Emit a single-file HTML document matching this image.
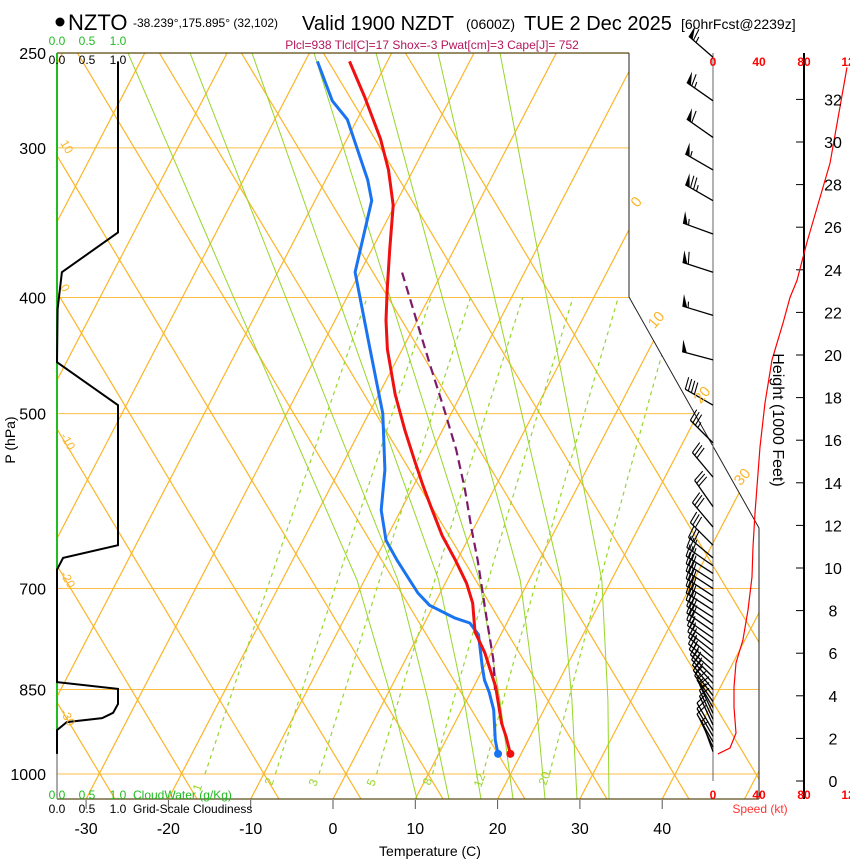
<!DOCTYPE html>
<html><head><meta charset="utf-8">
<style>
html,body{margin:0;padding:0;background:#fff;}
svg{display:block;font-family:"Liberation Sans",Arial,sans-serif;}
</style></head>
<body>
<svg id="chart" width="850" height="860" viewBox="0 0 850 860" xmlns="http://www.w3.org/2000/svg">
<defs>
<clipPath id="plotclip"><polygon points="57,53 629,53 629,297 759,528 759,799 57,799"/></clipPath>
</defs>
<g id="title">
<circle cx="60" cy="22" r="4.5" fill="#000"/>
<text x="68" y="30" font-size="22">NZTO</text>
<text x="133" y="27" font-size="12">-38.239°,175.895° (32,102)</text>
<text x="302" y="30" font-size="20">Valid 1900 NZDT</text>
<text x="466" y="29" font-size="14">(0600Z)</text>
<text x="524" y="30" font-size="20">TUE 2 Dec 2025</text>
<text x="681" y="29" font-size="14">[60hrFcst@2239z]</text>
<text x="432" y="49" font-size="12" fill="#b5165c" text-anchor="middle">Plcl=938 Tlcl[C]=17 Shox=-3 Pwat[cm]=3 Cape[J]= 752</text>
</g>
<g id="grid" clip-path="url(#plotclip)"></g>
<g id="frame"></g>
<g id="profiles" clip-path="url(#plotclip)"></g>
<g id="cloud"></g>
<g id="wind"></g>
<g id="labels"></g>
</svg>
<script>
// ---- sounding data (pressure hPa, temperature C) ----
const tempP = [962,931,907,846,792,761,720,693,663,632,602,574,547,516,482,442,418,394,365,335,313,295,272,254];
const tempC = [18.7,17.1,15.7,12.7,9.2,6.7,4.6,2.6,-0.2,-3.4,-6.2,-8.9,-11.5,-14.6,-18.0,-21.8,-23.8,-25.6,-27.8,-30.2,-33.0,-35.9,-40.5,-44.6];
const dewP = [962,937,884,854,835,814,765,748,741,723,706,663,638,602,557,500,442,400,381,332,319,284,274,254];
const dewC = [17.2,16.0,13.9,12.2,10.9,9.8,7.3,5.5,3.4,-0.5,-2.7,-7.3,-9.9,-12.4,-14.5,-18.3,-23.9,-28.4,-30.6,-33.1,-34.9,-41.2,-44.2,-48.5];
const parcelP = [851,803,744,663,626,579,536,497,460,426,381];
const parcelC = [12.8,10.7,7.4,2.5,-0.1,-3.5,-7.1,-11.0,-15.1,-19.1,-24.9];
// cloudiness (fraction) vs pressure
const cloudP = [254,353,381,409,453,492,644,660,675,838,849,874,889,898,905,919,962];
const cloudFrac = [1.0,1.0,0.08,0.01,0,1.0,1.0,0.1,0,0,1.0,1.0,0.92,0.74,0.16,0,0];
// wind barbs
const windP = [252,274,294,313,332,354,381,414,451,492,529,565,598,622,644,660,670,680,690,700,710,720,730,740,750,760,770,780,790,800,810,820,830,840,850,860,870,880,890,900,910,920,930,940,950,958];
const windDir = [311,305,305,300,300,290,288,287,285,300,315,320,325,320,315,310,305,303,303,303,303,303,303,303,305,305,305,307,308,310,310,312,315,318,320,322,325,330,335,335,335,330,330,330,335,340];
const windSpd = [65,65,60,55,75,55,60,55,50,40,35,30,30,30,30,30,30,30,30,30,30,30,30,30,30,28,27,25,25,25,25,22,22,20,20,18,15,15,15,12,12,10,10,8,6,5];
// speed profile: height (1000 ft) vs speed (kt)
const spdH = [1.27,1.55,2.25,3.47,4.41,5.54,6.62,8.03,9.58,10.99,12.58,15.68,17.75,19.77,21.5,22.7,23.5,25.3,29.0,33.5];
const spdKt = [4.3,14.8,20,18.3,18.3,20,26,30.4,33.9,34.8,36.5,40.9,45.2,51.3,60.9,67,73,81.7,101.7,116.5];
// axis labels
const pLevels = [250,300,400,500,700,850,1000];
const tTicks = [-30,-20,-10,0,10,20,30,40];
const mixRatios = [1,2,3,5,8,12,20];
const hTicks = [0,2,4,6,8,10,12,14,16,18,20,22,24,26,28,30,32];

const NS="http://www.w3.org/2000/svg";
function yP(p){return 774+520*Math.log(p/1000);}
function xT(t,y){return 333+8.23*t+0.52*(799-y);}
function xS(s){return 713+s*46/40;}
function yH(h){return 781-21.3*h;}
function xC(f){return 57+61*f;}
function mk(tag,attrs,parent){const e=document.createElementNS(NS,tag);for(const k in attrs)e.setAttribute(k,attrs[k]);parent.appendChild(e);return e;}
const grid=document.getElementById('grid'),frame=document.getElementById('frame'),prof=document.getElementById('profiles'),cloud=document.getElementById('cloud'),wind=document.getElementById('wind'),lab=document.getElementById('labels');
const ORANGE="#fbb527", GREEN="#97d62a";

// pressure lines
for(const p of pLevels){const y=yP(p);
 const l=mk('line',{x1:57,y1:y,x2:759,y2:y,stroke:ORANGE,'stroke-width':1,opacity:0.85},grid);
 
 
 const t=mk('text',{x:46,y:y+6,'font-size':16,'text-anchor':'end'},lab);t.textContent=p;
 
 
}
// isotherms (up-right)
for(let t=-110;t<=50;t+=10){
 const l=mk('line',{x1:xT(t,799),y1:799,x2:xT(t,53),y2:53,stroke:ORANGE,'stroke-width':1.2},grid);
 
 
}
// dry adiabats (down-right)
for(let k=-16;k<=6;k++){const x0=346+82*k;
 const l=mk('line',{x1:x0+0.6*(53-774),y1:53,x2:x0+0.6*(799-774),y2:799,stroke:ORANGE,'stroke-width':1.2},grid);
 
 
}
// moist adiabats (approx shape)
const mY=[53,250,413,580,700,799], mX=[128,213,284,357,392,417];
for(let k=0;k<=6;k++){let pts=[];
 for(let i=0;i<mY.length;i++){const sp=62+(32-62)*(mY[i]-53)/746;pts.push((mX[i]+k*sp).toFixed(1)+','+mY[i]);}
 const l=mk('polyline',{points:pts.join(' '),fill:'none',stroke:GREEN,'stroke-width':1},grid);
 
 
}
// mixing ratio lines
const mixLbl=[[200,792],[272,786],[316,787],[374,787],[430,786],[481,788],[546,786]];
mixRatios.forEach((w,i)=>{let pts=[];
 for(let p=1000;p>=400;p-=20){const e=w*p/(622+w),a=Math.log(e/6.112),td=243.5*a/(17.67-a),y=yP(p);pts.push(xT(td,y).toFixed(1)+','+y.toFixed(1));}
 const l=mk('polyline',{points:pts.join(' '),fill:'none',stroke:GREEN,'stroke-width':1.2,'stroke-dasharray':'4,4'},grid);
 
 
 const t=mk('text',{x:mixLbl[i][0],y:mixLbl[i][1],'font-size':12,fill:GREEN,transform:`rotate(-70 ${mixLbl[i][0]} ${mixLbl[i][1]})`},lab);t.textContent=w;
 
 
});
// frame
mk('line',{x1:57,y1:53,x2:629,y2:53,stroke:'#5a4a1a','stroke-width':1.2},frame);
mk('polyline',{points:'629,53 629,297 759,528 759,799',fill:'none',stroke:'#222','stroke-width':1},frame);
mk('line',{x1:57,y1:799,x2:759,y2:799,stroke:'#5a4a1a','stroke-width':1.2},frame);
mk('line',{x1:57,y1:753,x2:57,y2:799,stroke:'#555','stroke-width':1},frame);
mk('line',{x1:57,y1:53,x2:57,y2:753,stroke:'#22bb22','stroke-width':2},frame);
for(const t of tTicks){const x=xT(t,799);
 mk('line',{x1:x,y1:800,x2:x,y2:809,stroke:'#555'},frame);
 const tx=mk('text',{x:x,y:834,'font-size':16,'text-anchor':'middle'},lab);tx.textContent=t;
 
 
}
// isotherm/adiabat labels
[["0",640,205],["10",660,323],["20",706,398],["30",746,480]].forEach(a=>{const t=mk('text',{x:a[1],y:a[2],'font-size':15,fill:ORANGE,'text-anchor':'middle',transform:`rotate(-50 ${a[1]} ${a[2]})`},lab);t.textContent=a[0];
 
 });
[["10",60,143],["0",60,287],["-10",60,436],["-20",60,574],["-30",60,712]].forEach(a=>{const t=mk('text',{x:a[1],y:a[2],'font-size':12,fill:ORANGE,transform:`rotate(60 ${a[1]} ${a[2]})`},lab);t.textContent=a[0];
 
 });
// profiles
function line(P,C,attrs,name){const pts=P.map((p,i)=>{const y=yP(p);return xT(C[i],y).toFixed(1)+','+y.toFixed(1);});
 const l=mk('polyline',Object.assign({points:pts.join(' '),fill:'none','stroke-linejoin':'round'},attrs),prof);
 
 }
line(parcelP,parcelC,{stroke:'#7d1a6b','stroke-width':2.2,'stroke-dasharray':'9,5'},'parcel-trace');
line(dewP,dewC,{stroke:'#1a73f0','stroke-width':3},'dewpoint-line');
line(tempP,tempC,{stroke:'#f01010','stroke-width':3},'temperature-line');
{const y=yP(dewP[0]);const c=mk('circle',{cx:xT(dewC[0],y),cy:y,r:4,fill:'#1a73f0'},prof);
 
 }
{const y=yP(tempP[0]);const c=mk('circle',{cx:xT(tempC[0],y),cy:y,r:4,fill:'#f01010'},prof);
 
 }
// cloud panel
{const pts=cloudP.map((p,i)=>xC(cloudFrac[i]).toFixed(1)+','+yP(p).toFixed(1));
 const l=mk('polyline',{points:pts.join(' '),fill:'none',stroke:'#000','stroke-width':2},cloud);
 
 }
[["0.0",57],["0.5",87],["1.0",118]].forEach(a=>{
 [[45,'#22bb22'],[64,'#000'],[799,'#22bb22'],[813,'#000']].forEach(r=>{const t=mk('text',{x:a[1],y:r[0],'font-size':12,fill:r[1],'text-anchor':'middle'},lab);t.textContent=a[0];
 
 });});
{const t=mk('text',{x:133,y:799,'font-size':12,fill:'#22bb22'},lab);t.textContent='CloudWater (g/Kg)';}
{const t=mk('text',{x:133,y:813,'font-size':12,fill:'#000'},lab);t.textContent='Grid-Scale Cloudiness';}
{const t=mk('text',{x:430,y:856,'font-size':14,'text-anchor':'middle'},lab);t.textContent='Temperature (C)';}
{const t=mk('text',{x:15,y:440,'font-size':14,'text-anchor':'middle',transform:'rotate(-90 15 440)'},lab);t.textContent='P (hPa)';}
// wind panel
mk('line',{x1:713,y1:53,x2:713,y2:781,stroke:'#666','stroke-width':1},wind);
mk('line',{x1:804,y1:53,x2:804,y2:799,stroke:'#000','stroke-width':2},wind);
for(const h of hTicks){const y=yH(h);mk('line',{x1:796,y1:y,x2:804,y2:y,stroke:'#000'},wind);
 const t=mk('text',{x:833,y:y+6,'font-size':16,'text-anchor':'middle'},lab);t.textContent=h;
 
 }
{const t=mk('text',{x:773,y:420,'font-size':16,'text-anchor':'middle',transform:'rotate(90 773 420)'},lab);t.textContent='Height (1000 Feet)';}
[["0",713],["40",759],["80",804],["12",848]].forEach(a=>{[66,799].forEach(yy=>{const t=mk('text',{x:a[1],y:yy,'font-size':12,'font-weight':'bold',fill:'#f00','text-anchor':'middle'},lab);t.textContent=a[0];
 
 });});
{const t=mk('text',{x:760,y:813,'font-size':12,fill:'#f33','text-anchor':'middle'},lab);t.textContent='Speed (kt)';}
{const pts=spdH.map((h,i)=>xS(spdKt[i]).toFixed(1)+','+yH(h).toFixed(1));
 const l=mk('polyline',{points:pts.join(' '),fill:'none',stroke:'#f00','stroke-width':1.2},wind);
 
 }
windP.forEach((p,i)=>{const bx=713,by=yP(p),d=windDir[i]*Math.PI/180;
 const ux=Math.sin(d),uy=-Math.cos(d),px=-uy,py=ux,L=32;
 const g=mk('g',{},wind);
 
 
 const tx=bx+L*ux,ty=by+L*uy;
 mk('line',{x1:bx,y1:by,x2:tx,y2:ty,stroke:'#000','stroke-width':1.3},g);
 let s=Math.round(windSpd[i]/5)*5,pos=0;
 while(s>=50){const ax=tx-pos*ux,ay=ty-pos*uy;
  mk('polygon',{points:`${ax},${ay} ${ax+12*px+2*ux},${ay+12*py+2*uy} ${ax-5*ux},${ay-5*uy}`,fill:'#000'},g);pos+=6;s-=50;}
 while(s>=10){const ax=tx-pos*ux,ay=ty-pos*uy;
  mk('line',{x1:ax,y1:ay,x2:ax+12*px+3*ux,y2:ay+12*py+3*uy,stroke:'#000','stroke-width':1.1},g);pos+=3.5;s-=10;}
 if(s>=5){if(pos===0)pos=3.5;const ax=tx-pos*ux,ay=ty-pos*uy;
  mk('line',{x1:ax,y1:ay,x2:ax+6*px+1.5*ux,y2:ay+6*py+1.5*uy,stroke:'#000','stroke-width':1.1},g);}
});
</script>
</body></html>
